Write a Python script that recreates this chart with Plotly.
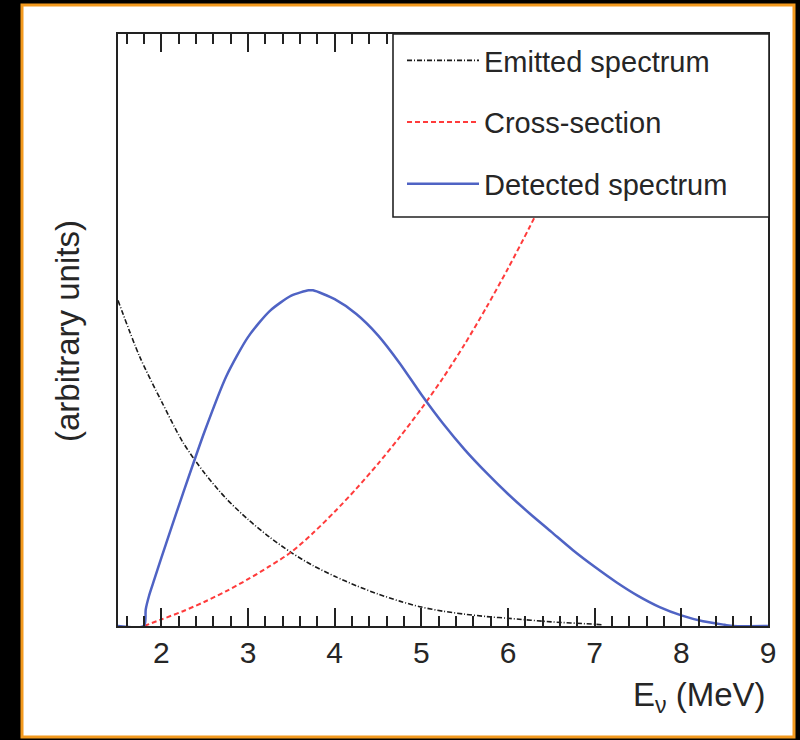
import plotly.graph_objects as go

# ---- data (arbitrary units, 0..100 = axis height) ----
emitted_x = [1.5, 1.75, 2.0, 2.25, 2.5, 2.75, 3.0, 3.25, 3.5, 3.75, 4.0, 4.25, 4.5, 4.75, 5.0, 5.25, 5.5, 5.75, 6.0, 6.5, 7.0, 7.1]
emitted_y = [55.0, 45.5, 38.0, 31.0, 25.8, 21.5, 18.0, 15.0, 12.4, 10.2, 8.4, 6.8, 5.4, 4.2, 3.2, 2.5, 2.0, 1.6, 1.3, 0.7, 0.3, 0.2]

xsec_x = [1.8, 2.0, 2.25, 2.5, 2.75, 3.0, 3.25, 3.5, 3.75, 4.0, 4.25, 4.5, 4.75, 5.0, 5.25, 5.5, 5.75, 6.0, 6.25, 6.5, 6.7]
xsec_y = [0.0, 1.1, 2.5, 4.1, 5.9, 7.9, 10.1, 12.5, 15.7, 19.3, 23.2, 27.4, 31.9, 36.7, 41.9, 47.6, 53.8, 60.4, 67.4, 74.8, 81.0]

detected_x = [1.5, 1.8, 1.82, 1.86, 1.92, 2.0, 2.1, 2.25, 2.5, 2.75, 3.0, 3.25, 3.5, 3.7, 3.75, 4.0, 4.25, 4.5, 4.75,
              5.0, 5.25, 5.5, 5.75, 6.0, 6.25, 6.5, 6.75, 7.0, 7.25, 7.5, 7.75, 8.0, 8.25, 8.5, 8.6, 9.0]
detected_y = [0.0, 0.0, 2.8, 5.2, 7.9, 11.5, 15.9, 22.4, 32.9, 42.2, 48.8, 53.2, 55.8, 56.7, 56.7, 55.2, 52.7, 49.1, 44.4,
              39.1, 34.2, 29.8, 25.9, 22.3, 19.0, 15.9, 12.8, 10.0, 7.4, 5.1, 3.2, 1.8, 0.8, 0.2, 0.0, 0.0]

series_names = ["Emitted spectrum", "Cross-section", "Detected spectrum"]
x_tick_vals = [2, 3, 4, 5, 6, 7, 8, 9]
x_tick_text = ["2", "3", "4", "5", "6", "7", "8", "9"]

FONT = "Liberation Sans, Arial, Helvetica, sans-serif"
TXT = "#262626"

W, H = 800, 740
PL, PR, PT, PB = 118, 768, 34, 626          # plot box in screen pixels
L, R, T, B = PL, W - PR, PT, H - PB
pw, ph = W - L - R, H - T - B

def px_x(p):
    return (p - L) / pw

def px_y(p):
    return (H - B - p) / ph

fig = go.Figure()
fig.add_trace(go.Scatter(x=emitted_x, y=emitted_y, mode="lines", name=series_names[0],
                         legendgroup="a",
                         line=dict(color="#1a1a1a", width=1.6, dash="5px,2px,1px,2px", shape="spline", smoothing=0.8)))
fig.add_trace(go.Scatter(x=xsec_x, y=xsec_y, mode="lines", name=series_names[1],
                         legendgroup="b",
                         line=dict(color="#ff3b3b", width=2, dash="5px,3px", shape="spline", smoothing=0.8)))
fig.add_trace(go.Scatter(x=detected_x, y=detected_y, mode="lines", name=series_names[2],
                         legendgroup="c",
                         line=dict(color="#4f63c4", width=2.5, shape="spline", smoothing=0.7)))

shapes = [
    # white card with orange frame
    dict(type="rect", xref="paper", yref="paper", layer="below",
         x0=px_x(22), x1=px_x(794), y0=px_y(737), y1=px_y(5),
         fillcolor="white", line=dict(color="#f39a1f", width=3)),
    # legend frame (covers the curves behind it)
    dict(type="rect", xref="paper", yref="paper", layer="above",
         x0=px_x(393), x1=px_x(769), y0=px_y(217), y1=px_y(34),
         fillcolor="white", line=dict(color="#222222", width=1.6)),
]

annotations = [
    dict(text="E<sub>ν</sub> (MeV)", xref="paper", yref="paper", x=px_x(768), y=px_y(697),
         xanchor="right", yanchor="middle", showarrow=False,
         font=dict(family=FONT, size=33, color=TXT)),
    dict(text="(arbitrary units)", xref="paper", yref="paper", x=px_x(67), y=px_y(331),
         xanchor="center", yanchor="middle", showarrow=False, textangle=-90,
         font=dict(family=FONT, size=33, color=TXT)),
]

fig.update_layout(
    width=W, height=H,
    margin=dict(l=L, r=R, t=T, b=B),
    paper_bgcolor="black", plot_bgcolor="white",
    font=dict(family=FONT, size=29, color=TXT),
    shapes=shapes, annotations=annotations,
    showlegend=True,
    legend=dict(x=px_x(402), y=px_y(35), xanchor="left", yanchor="top",
                bgcolor="rgba(0,0,0,0)", borderwidth=0,
                font=dict(family=FONT, size=29, color=TXT),
                tracegroupgap=21, itemwidth=72),
    xaxis=dict(range=[1.5, 9], tickvals=x_tick_vals, ticktext=x_tick_text,
               ticks="inside", ticklen=18, tickwidth=1.6, tickcolor="#222",
               showline=True, linecolor="#222", linewidth=1.6, mirror="ticks",
               showgrid=False, zeroline=False, ticklabelstandoff=-1,
               tickfont=dict(family=FONT, size=30, color=TXT),
               minor=dict(dtick=0.2, ticks="inside", ticklen=10, tickwidth=1.6, tickcolor="#222", showgrid=False)),
    yaxis=dict(range=[0, 100], showticklabels=False, ticks="",
               showline=True, linecolor="#222", linewidth=1.6, mirror=True,
               showgrid=False, zeroline=False),
)

fig.write_html("out.html",
               config={"displayModeBar": False},
               post_script="document.body.style.margin='0';document.body.style.background='black';")
